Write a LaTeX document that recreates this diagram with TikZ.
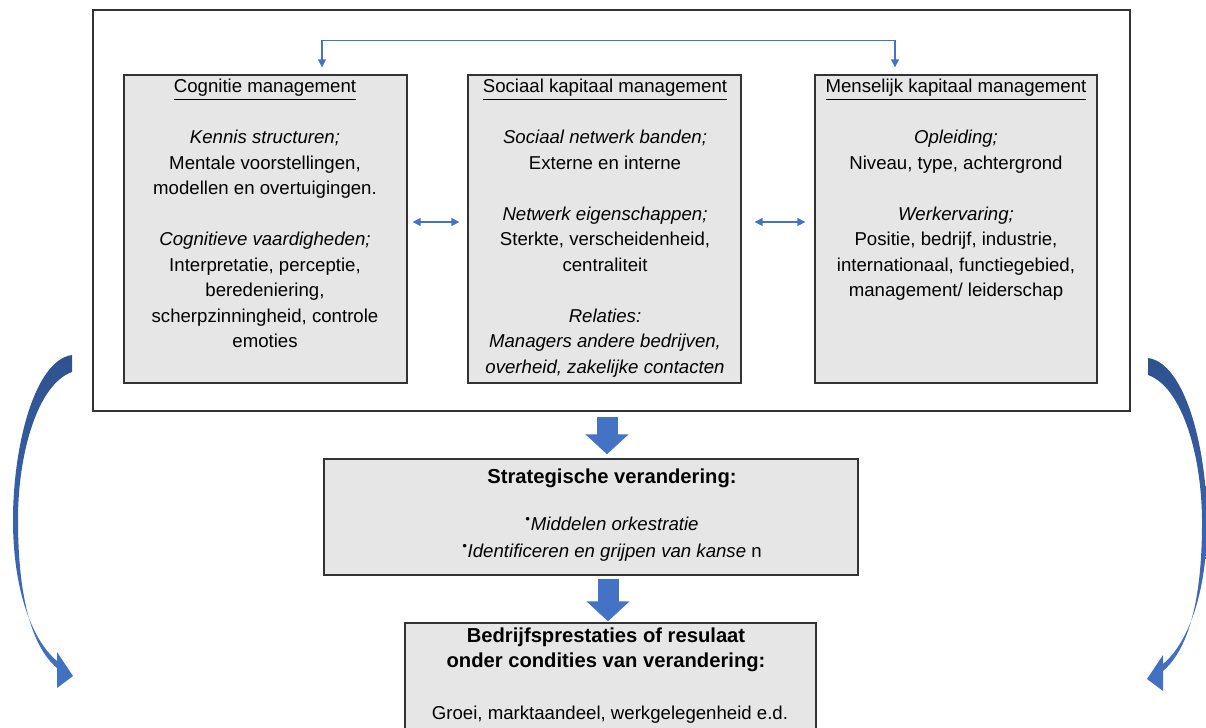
\documentclass[tikz,border=0pt]{standalone}
\usepackage{fontspec}
\setmainfont{Liberation Sans}
\usetikzlibrary{positioning,arrows.meta,calc}
\definecolor{boxgray}{RGB}{230,230,230}
\definecolor{conblue}{RGB}{68,114,196}
\definecolor{arcdark}{RGB}{47,82,143}
\definecolor{arclight}{RGB}{68,114,196}

\begin{document}
\begin{tikzpicture}[x=0.02cm,y=-0.02cm,
    box/.style={draw=black!80,line width=0.8pt,fill=boxgray,inner sep=0pt},
    txt/.style={align=center,inner sep=0pt,anchor=north,font=\fontsize{10.6}{14.5}\selectfont},
    hd/.style={inner sep=0pt,anchor=base,font=\fontsize{11.5}{14.4}\selectfont\bfseries},
    con/.style={conblue,line width=0.7pt,>={Triangle[length=4.5pt,width=4.5pt]}},
    blk/.style={conblue,line width=0.42cm,-{Triangle[length=0.4cm,width=0.84cm]}},
]
\useasboundingbox (0,0) rectangle (1206,727);
\clip (0,0) rectangle (1206,727);
\node[draw=black!80,line width=0.8pt,minimum width=20.74cm,minimum height=8.02cm] (frame) at (611.5,210.5) {};
\node[box,minimum width=5.66cm,minimum height=6.16cm] (cog) at (265.5,229) {};
\node[box,minimum width=5.46cm,minimum height=6.16cm] (soc) at (604.5,229) {};
\node[box,minimum width=5.64cm,minimum height=6.16cm] (men) at (956,229) {};
\node[box,minimum width=10.68cm,minimum height=2.32cm] (strat) at (591,517) {};
\node[box,minimum width=8.22cm,minimum height=2.44cm] (bed) at (610.5,684) {};

\node[txt] (cogtxt) at (265,79) {\underline{Cognitie management}\\[14.5pt]
  \textit{Kennis structuren;}\\ Mentale voorstellingen,\\ modellen en overtuigingen.\\[14.5pt]
  \textit{Cognitieve vaardigheden;}\\ Interpretatie, perceptie,\\ beredeniering,\\
  scherpzinningheid, controle\\ emoties};
\node[txt] (soctxt) at (605,79) {\underline{Sociaal kapitaal management}\\[14.5pt]
  \textit{Sociaal netwerk banden;}\\ Externe en interne\\[14.5pt]
  \textit{Netwerk eigenschappen;}\\ Sterkte, verscheidenheid,\\ centraliteit\\[14.5pt]
  \textit{Relaties:}\\ \textit{Managers andere bedrijven,}\\ \textit{overheid, zakelijke contacten}};
\node[txt] (mentxt) at (956,79) {\underline{Menselijk kapitaal management}\\[14.5pt]
  \textit{Opleiding;}\\ Niveau, type, achtergrond\\[14.5pt]
  \textit{Werkervaring;}\\ Positie, bedrijf, industrie,\\ internationaal, functiegebied,\\
  management/ leiderschap};

\node[hd] (strathd) at (612,483) {Strategische verandering:};
\node[txt,font=\fontsize{10.6}{15.3}\selectfont\itshape] (stratbody) at (612,517)
  {\textsuperscript{•}Middelen orkestratie\\ \textsuperscript{•}Identificeren en grijpen van kanse {\upshape n}};
\node[hd,anchor=north,align=center] (bedhd) at (606,627) {Bedrijfsprestaties of resulaat\\ onder condities van verandering:};
\node[hd,font=\fontsize{10.6}{14.5}\selectfont] (bedbody) at (610,719) {Groei, marktaandeel, werkgelegenheid e.d.};

\draw[con,<->] ([xshift=1.13cm,yshift=0.14cm]cog.north) -- ++(0,-27) -| ([xshift=-1.22cm,yshift=0.14cm]men.north);
\draw[con,<->] ([xshift=0.1cm,yshift=0.14cm]cog.east) -- ([xshift=-0.16cm,yshift=0.14cm]soc.west);
\draw[con,<->] ([xshift=0.26cm,yshift=0.14cm]soc.east) -- ([xshift=-0.18cm,yshift=0.14cm]men.west);

\coordinate (a1) at ([xshift=-0.09cm,yshift=-0.1cm]frame.south);
\coordinate (a2) at ([xshift=0.34cm,yshift=-0.06cm]strat.south);
\draw[blk,shorten >=0.08cm] (a1) -- (a1 |- strat.north);
\draw[blk,shorten >=0.02cm] (a2) -- (a2 |- bed.north);

\shade[top color=arcdark,bottom color=arclight] (72,355) .. controls (35,360) and (13,445) .. (13,520)
  .. controls (13,590) and (32,640) .. (57,661) -- (57,652) -- (73,676) -- (57,688) -- (57,668)
  .. controls (30,645) and (18,592) .. (18,520) .. controls (18,452) and (38,384) .. (72,372) -- cycle;
\shade[top color=arcdark,bottom color=arclight] (1148,358) .. controls (1185,363) and (1207,448) .. (1207,523)
  .. controls (1207,593) and (1188,643) .. (1163,664) -- (1163,655) -- (1147,679) -- (1163,691) -- (1163,671)
  .. controls (1190,648) and (1202,595) .. (1202,523) .. controls (1202,455) and (1182,387) .. (1148,375) -- cycle;
\end{tikzpicture}
\end{document}
